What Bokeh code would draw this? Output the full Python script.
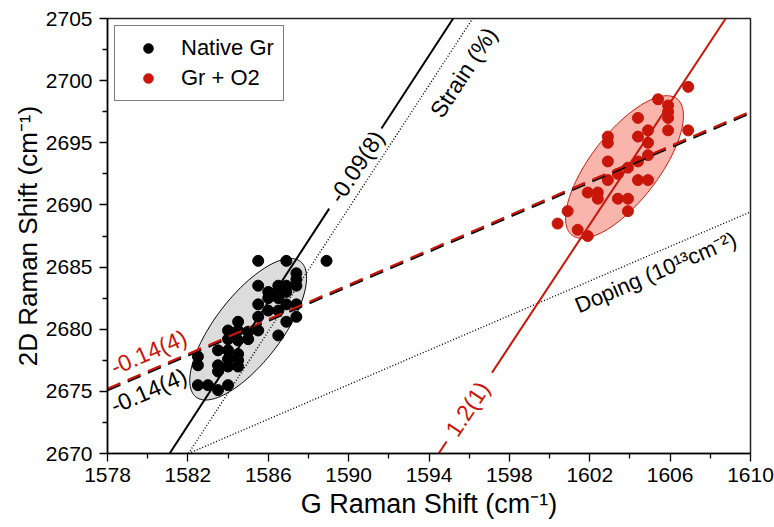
import math
import numpy as np
from bokeh.plotting import figure
from bokeh.models import Range1d, Label, FixedTicker
from bokeh.embed import file_html
from bokeh.resources import INLINE

# ---- measured peak positions (cm^-1) ----
native_g = [1585.5, 1586.9, 1588.9, 1587.4, 1587.4, 1587.4, 1585.5, 1586.5, 1586.9,
            1586.0, 1586.5, 1586.9, 1586.0, 1586.5, 1585.5, 1586.9, 1587.4, 1586.0,
            1586.5, 1585.5, 1587.4, 1586.9, 1584.5, 1584.0, 1584.5, 1585.0, 1585.5,
            1586.5, 1584.0, 1584.5, 1585.0, 1583.5, 1584.0, 1584.5, 1582.5, 1582.5,
            1583.5, 1584.0, 1584.5, 1584.0, 1584.5, 1583.5, 1582.5, 1583.0, 1583.5,
            1584.0]
native_2d = [2685.5, 2685.5, 2685.5, 2684.5, 2684.0, 2683.5, 2683.5, 2683.5, 2683.5,
             2683.0, 2683.0, 2683.0, 2682.5, 2682.5, 2682.0, 2682.0, 2682.0, 2681.5,
             2681.5, 2681.0, 2681.0, 2680.6, 2680.6, 2679.9, 2679.9, 2679.8, 2679.9,
             2679.5, 2679.2, 2679.1, 2679.2, 2678.3, 2678.3, 2678.0, 2677.8, 2677.1,
             2677.1, 2677.6, 2677.5, 2677.0, 2677.0, 2676.6, 2675.5, 2675.5, 2675.1,
             2675.5]

o2_g = [1606.9, 1605.4, 1605.9, 1605.9, 1605.9, 1604.4, 1604.9, 1605.9, 1606.9,
        1602.9, 1602.9, 1604.4, 1604.9, 1604.9, 1604.4, 1602.9, 1603.9, 1603.4,
        1602.9, 1604.4, 1604.9, 1601.9, 1602.4, 1602.4, 1603.4, 1603.9, 1600.9,
        1603.9, 1600.4, 1601.4, 1601.9]
o2_2d = [2699.5, 2698.5, 2698.0, 2697.5, 2697.0, 2697.0, 2696.0, 2696.0, 2696.0,
         2695.5, 2695.0, 2695.5, 2695.0, 2694.0, 2693.5, 2693.5, 2693.0, 2692.5,
         2692.0, 2692.0, 2692.0, 2691.0, 2691.0, 2690.5, 2690.5, 2690.5, 2689.5,
         2689.5, 2688.5, 2688.0, 2687.5]

# confidence ellipses: centre and two half-axis vectors (data units)
native_ell_center = [1585.0, 2680.0]
native_ell_major = [2.60, 5.45]
native_ell_minor = [1.30, -1.65]
o2_ell_center = [1603.73, 2693.05]
o2_ell_major = [2.61, 5.49]
o2_ell_minor = [1.34, -1.67]

# linear fits / reference vectors: (G at 2D = 2670, slope d2D/dG)
native_fit = [1581.09, 2.48]
o2_fit = [1594.48, 2.45]
strain_axis = [1582.03, 2.475]
doping_axis = [1582.03, 0.695]
common_fit = [2675.15, 0.697]   # 2D at G = 1578, slope

x_ticks = [1578, 1582, 1586, 1590, 1594, 1598, 1602, 1606, 1610]
x_minor = [1580, 1584, 1588, 1592, 1596, 1600, 1604, 1608]
y_ticks = [2670, 2675, 2680, 2685, 2690, 2695, 2700, 2705]
y_minor = [2672.5, 2677.5, 2682.5, 2687.5, 2692.5, 2697.5, 2702.5]

X0, X1 = 1578, 1610
Y0, Y1 = 2670, 2705
W, H = 774, 527
BL, BR, BT, BB = 107, 24, 18, 74

FONT = "Liberation Sans"
RED = "#c8160a"

p = figure(width=W, height=H, x_range=Range1d(X0, X1), y_range=Range1d(Y0, Y1),
           output_backend="svg", toolbar_location=None,
           min_border_left=BL, min_border_right=BR, min_border_top=BT, min_border_bottom=BB)
p.xgrid.visible = False
p.ygrid.visible = False
p.outline_line_color = "#222222"
p.outline_line_width = 1.5

px_per_x = (W - BL - BR) / (X1 - X0)
px_per_y = (H - BT - BB) / (Y1 - Y0)


def screen_angle(slope):
    return math.atan(slope * px_per_y / px_per_x)


def ellipse_pts(center, major, minor, n=200):
    t = np.linspace(0, 2 * np.pi, n)
    xs = center[0] + major[0] * np.cos(t) + minor[0] * np.sin(t)
    ys = center[1] + major[1] * np.cos(t) + minor[1] * np.sin(t)
    return xs, ys


def x_at(fit, y):
    return fit[0] + (y - Y0) / fit[1]


# ellipses
ex, ey = ellipse_pts(native_ell_center, native_ell_major, native_ell_minor)
p.patch(ex, ey, fill_color="#dcdcdc", line_color="black", line_width=1)
ex, ey = ellipse_pts(o2_ell_center, o2_ell_major, o2_ell_minor)
p.patch(ex, ey, fill_color="#f9b5ac", line_color=RED, line_width=1)

# data points
p.scatter(native_g, native_2d, size=11, color="black", legend_label="Native Gr")
p.scatter(o2_g, o2_2d, size=11, color=RED, legend_label="Gr + O2")

# strain and doping axes (dotted)
p.line([strain_axis[0], x_at(strain_axis, Y1)], [Y0, Y1],
       line_color="black", line_width=1.4, line_dash="1 2")
p.line([doping_axis[0], X1], [Y0, Y0 + doping_axis[1] * (X1 - doping_axis[0])],
       line_color="black", line_width=1.4, line_dash="1 2")

# common dashed fit (black under red)
cx = [X0, X1]
cy = [common_fit[0], common_fit[0] + common_fit[1] * (X1 - X0)]
p.line(cx, [v - 0.06 for v in cy], line_color="black", line_width=2.2, line_dash="14 8")
p.line(cx, [v + 0.06 for v in cy], line_color=RED, line_width=2.2, line_dash="14 8")

# native fit, broken around its label
for ya, yb in [(Y0, 2689.7), (2696.15, Y1)]:
    p.line([x_at(native_fit, ya), x_at(native_fit, yb)], [ya, yb],
           line_color="black", line_width=2)
# O2 fit, broken around its label
for ya, yb in [(Y0, 2670.97), (2676.5, Y1)]:
    p.line([x_at(o2_fit, ya), x_at(o2_fit, yb)], [ya, yb],
           line_color=RED, line_width=2)

# annotations
def add_label(x, y, text, slope, color="black", size="23px"):
    p.add_layout(Label(x=x, y=y, text=text, angle=screen_angle(slope), angle_units="rad",
                       text_align="center", text_baseline="middle",
                       text_font=FONT, text_font_size=size, text_color=color))


add_label(1580.05, 2678.15, "-0.14(4)", common_fit[1], RED)
add_label(1580.05, 2675.05, "-0.14(4)", common_fit[1], "black")
add_label(1590.39, 2693.07, "-0.09(8)", native_fit[1], "black")
add_label(1595.92, 2673.58, "1.2(1)", o2_fit[1], RED)
add_label(1595.72, 2700.66, "Strain (%)", strain_axis[1], "black")
add_label(1605.28, 2684.57, "Doping (10\u00b9\u00b3cm\u207b\u00b2)", doping_axis[1], "black",
          size="22px")

# axes
p.xaxis.axis_label = "G Raman Shift (cm\u207b\u00b9)"
p.yaxis.axis_label = "2D Raman Shift (cm\u207b\u00b9)"
p.xaxis.ticker = FixedTicker(ticks=x_ticks, minor_ticks=x_minor)
p.yaxis.ticker = FixedTicker(ticks=y_ticks, minor_ticks=y_minor)
for ax in (p.xaxis, p.yaxis):
    ax.axis_label_text_font = FONT
    ax.axis_label_text_font_style = "normal"
    ax.axis_label_text_color = "black"
    ax.major_label_text_font = FONT
    ax.major_label_text_font_size = "21px"
    ax.major_label_text_color = "black"
    ax.axis_line_color = "black"
    ax.axis_line_width = 1.5
    ax.major_tick_line_color = "black"
    ax.minor_tick_line_color = "black"
    ax.major_tick_line_width = 1.3
    ax.minor_tick_line_width = 1.3
    ax.major_tick_in = 0
    ax.major_tick_out = 8
    ax.minor_tick_in = 0
    ax.minor_tick_out = 5
p.xaxis.axis_label_text_font_size = "27px"
p.yaxis.axis_label_text_font_size = "26px"
p.xaxis.major_label_standoff = 6
p.yaxis.major_label_standoff = 7
p.xaxis.axis_label_standoff = 4
p.yaxis.axis_label_standoff = 0

# legend
lg = p.legend[0]
lg.location = "top_left"
lg.margin = 7
lg.padding = 9
lg.spacing = 4
lg.glyph_width = 48
lg.glyph_height = 24
lg.label_standoff = 9
lg.label_text_font = FONT
lg.label_text_font_size = "22px"
lg.label_text_color = "black"
lg.border_line_color = "black"
lg.border_line_width = 1
lg.background_fill_alpha = 1

open("out.html", "w").write(file_html(p, INLINE))
